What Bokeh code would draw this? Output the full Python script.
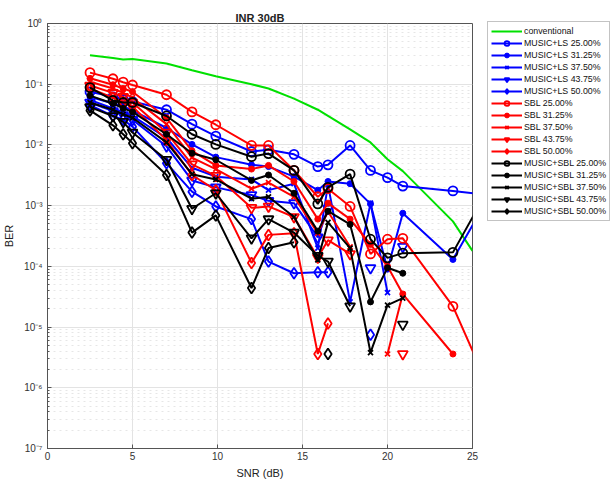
import numpy as np
from bokeh.plotting import figure
from bokeh.models import (Legend, LegendItem, CustomJSTickFormatter, FixedTicker,
                          SingleIntervalTicker)
from bokeh.embed import file_html
from bokeh.resources import INLINE

# SNR grid (dB) shared by the detector curves; last point lies past the axis end
snr = [2.5, 3.85, 4.45, 5.0, 7.0, 8.5, 9.9, 12.0, 13.0, 14.5, 15.9, 16.5,
       17.8, 19.0, 20.0, 20.9, 23.85, 27.0]
snr_conv = [2.5, 3.85, 4.45, 5.0, 7.0, 8.5, 9.9, 12.0, 13.0, 14.5, 15.9, 16.5,
            17.8, 19.0, 20.0, 20.9, 23.85, 25.0]

ber_conventional = [0.30, 0.27, 0.255, 0.26, 0.22, 0.17, 0.135, 0.10, 0.085, 0.058,
                    0.038, 0.030, 0.018, 0.011, 0.0058, 0.0037, 5.5e-4, 1.8e-4]

N = None
# MUSIC+LS
ls_25 = [0.075, 0.062, 0.056, 0.052, 0.038, 0.022, 0.014, 0.0078, 0.0083, 0.0070,
         0.0044, 0.0047, 0.0098, 0.0038, 0.0029, 0.0021, 0.00175, 0.00137]
ls_3125 = [0.062, 0.048, 0.043, 0.037, 0.019, 0.0102, 0.0063, 0.0047, 0.0044, 0.0030,
           0.0018, 0.0025, 0.0023, 0.00107, 9e-5, 7.5e-4, 1.3e-4, 4.5e-3]
ls_375 = [0.055, 0.040, 0.035, 0.030, 0.013, 0.0042, 0.0030, 0.0027, 0.0018, 0.0023,
          2.0e-4, 0.0022, 2.6e-5, 0.0011, 3.7e-5, N, N, N]
ls_4375 = [0.050, 0.036, 0.031, 0.026, 0.0095, 0.0026, 0.0020, 0.0015, 0.0012, 0.0011,
           3.0e-4, 9.0e-4, N, 9.4e-5, N, 2.1e-4, N, N]
ls_50 = [0.045, 0.030, 0.026, 0.020, 0.0050, 0.0017, 9.7e-4, 6.0e-4, 1.2e-4, 7.7e-5,
         8.0e-5, 8.0e-5, N, 7.5e-6, N, N, N, N]
# SBL
sbl_25 = [0.155, 0.123, 0.108, 0.097, 0.067, 0.035, 0.0215, 0.0098, 0.0098, 0.0038,
          0.0014, 0.0019, 9.7e-4, 1.6e-4, 2.8e-4, 2.9e-4, 2.2e-5, 2.2e-7]
sbl_3125 = [0.125, 0.098, 0.085, 0.075, 0.028, 0.0080, 0.0046, 0.0040, 0.0046, 0.0025,
            6.0e-4, 0.0011, 6.0e-4, 2.3e-4, 1.0e-4, 3.5e-5, 3.6e-6, N]
sbl_375 = [0.11, 0.085, 0.072, 0.060, 0.022, 0.0062, 0.0040, 0.0019, 0.0024, 0.0014,
           3.5e-4, 8.0e-4, 2.1e-4, N, 3.6e-6, 3.5e-5, N, N]
sbl_4375 = [0.095, 0.072, 0.062, 0.050, 0.016, 0.0048, 0.0031, 9.2e-4, 9.7e-4, 6.5e-4,
            1.4e-4, 2.7e-4, 1.6e-4, N, N, 3.6e-6, N, N]
sbl_50 = [0.085, 0.060, 0.050, 0.043, 0.012, 0.0032, 0.0018, 1.14e-4, 3.3e-4, 3.5e-4,
          3.6e-6, 1.15e-5, N, N, N, N, N, N]
# MUSIC+SBL
msbl_25 = [0.088, 0.054, 0.050, 0.050, 0.030, 0.015, 0.0102, 0.0064, 0.0072, 0.0038,
           0.00107, 0.0020, 0.0033, 2.8e-4, 1.38e-4, 1.65e-4, 1.7e-4, 6.4e-3]
msbl_3125 = [0.065, 0.048, 0.040, 0.035, 0.015, 0.0073, 0.0057, 0.0026, 0.0032, 0.0016,
             3.8e-4, 8.1e-4, 4.9e-4, 2.6e-5, 9.5e-5, 7.7e-5, N, N]
msbl_375 = [0.050, 0.038, 0.032, 0.028, 0.011, 0.0033, 0.0027, 0.0013, 0.0014, 6.5e-4,
            1.28e-4, 5.3e-4, 2.0e-4, 3.8e-6, 2.3e-5, 3.0e-5, N, N]
msbl_4375 = [0.042, 0.030, 0.024, 0.016, 0.0057, 8.9e-4, 0.0016, 2.9e-4, 6.0e-4, 3.6e-4,
             1.5e-4, 1.2e-4, 2.2e-5, N, N, 1.1e-5, N, N]
msbl_50 = [0.037, 0.021, 0.015, 0.0107, 0.0032, 3.6e-4, 6.9e-4, 4.4e-5, 2.0e-4, 2.5e-4,
           N, 3.6e-6, N, N, N, N, N, N]

FONT = "Liberation Sans"
FRAME_W, FRAME_H = 425, 425

p = figure(frame_width=FRAME_W, frame_height=FRAME_H, x_range=(0, 25), y_range=(1e-7, 1),
           y_axis_type="log", output_backend="svg", toolbar_location=None,
           min_border_left=47, min_border_top=23, min_border_bottom=34,
           min_border_right=141,
           background_fill_color="white", border_fill_color="white")

p.title.text = "INR 30dB"
p.title.align = "center"
p.title.text_font = FONT
p.title.text_font_size = "11px"
p.title.text_font_style = "bold"
p.title.text_color = "#222222"
p.title.standoff = 0

p.outline_line_color = "#555555"
p.outline_line_width = 1

for ax in (p.xaxis[0], p.yaxis[0]):
    ax.axis_line_color = "#555555"
    ax.major_tick_line_color = "#555555"
    ax.minor_tick_line_color = "#555555"
    ax.major_tick_in = 4
    ax.major_tick_out = 0
    ax.minor_tick_in = 2
    ax.minor_tick_out = 0
    ax.major_label_text_font = FONT
    ax.major_label_text_font_size = "10px"
    ax.major_label_text_color = "#333333"
    ax.axis_label_text_font = FONT
    ax.axis_label_text_font_size = "11px"
    ax.axis_label_text_font_style = "normal"
    ax.axis_label_text_color = "#222222"

p.xaxis.axis_label = "SNR (dB)"
p.yaxis.axis_label = "BER"
p.xaxis.ticker = SingleIntervalTicker(interval=5, num_minor_ticks=0)
p.xaxis.minor_tick_line_color = None
p.xaxis.major_label_standoff = 3
p.xaxis.axis_label_standoff = 4
p.yaxis.major_label_standoff = 5
p.yaxis.axis_label_standoff = 6

decades = list(range(-7, 1))
minor = [m * 10.0 ** d for d in decades[:-1] for m in range(2, 10)]
p.yaxis.ticker = FixedTicker(ticks=[10.0 ** d for d in decades], minor_ticks=minor)
p.yaxis.formatter = CustomJSTickFormatter(code="""
const sup = {'0':'\u2070','1':'\u00b9','2':'\u00b2','3':'\u00b3','4':'\u2074',
             '5':'\u2075','6':'\u2076','7':'\u2077','8':'\u2078','9':'\u2079','-':'\u207b'};
const e = Math.round(Math.log10(tick));
return '10' + String(e).split('').map(c => sup[c]).join('');
""")

p.xgrid.grid_line_color = "#e3e3e3"
p.ygrid.grid_line_color = "#e3e3e3"
p.ygrid.minor_grid_line_color = "#e6e6e6"
p.ygrid.minor_grid_line_dash = "dotted"
p.ygrid.ticker = p.yaxis[0].ticker
p.xgrid.ticker = p.xaxis[0].ticker


def arr(v):
    return np.array([np.nan if x is None else x for x in v], dtype=float)


items = []
r = p.line(snr_conv, ber_conventional, line_color="#00e000", line_width=2)
items.append(LegendItem(label="conventional", renderers=[r]))

series = [
    ("MUSIC+LS 25.00%", ls_25, "blue", "circle"),
    ("MUSIC+LS 31.25%", ls_3125, "blue", "dot"),
    ("MUSIC+LS 37.50%", ls_375, "blue", "x"),
    ("MUSIC+LS 43.75%", ls_4375, "blue", "inverted_triangle"),
    ("MUSIC+LS 50.00%", ls_50, "blue", "diamond"),
    ("SBL 25.00%", sbl_25, "red", "circle"),
    ("SBL 31.25%", sbl_3125, "red", "dot"),
    ("SBL 37.50%", sbl_375, "red", "x"),
    ("SBL 43.75%", sbl_4375, "red", "inverted_triangle"),
    ("SBL 50.00%", sbl_50, "red", "diamond"),
    ("MUSIC+SBL 25.00%", msbl_25, "black", "circle"),
    ("MUSIC+SBL 31.25%", msbl_3125, "black", "dot"),
    ("MUSIC+SBL 37.50%", msbl_375, "black", "x"),
    ("MUSIC+SBL 43.75%", msbl_4375, "black", "inverted_triangle"),
    ("MUSIC+SBL 50.00%", msbl_50, "black", "diamond"),
]

for label, vals, color, mk in series:
    y = arr(vals)
    ln = p.line(snr, y, line_color=color, line_width=2)
    if mk == "dot":
        sc = p.scatter(snr, y, marker="circle", size=6, line_color=color,
                       fill_color=color, line_width=1)
    elif mk == "circle":
        sc = p.scatter(snr, y, marker="circle", size=9, line_color=color,
                       fill_color=None, line_width=1.8)
    elif mk == "x":
        sc = p.scatter(snr, y, marker="x", size=7, line_color=color, line_width=1.8)
    elif mk == "inverted_triangle":
        sc = p.scatter(snr, y, marker="inverted_triangle", size=10, line_color=color,
                       fill_color=None, line_width=1.8)
    else:
        sc = p.scatter(snr, y, marker="diamond", size=11, line_color=color,
                       fill_color=None, line_width=1.8)
    items.append(LegendItem(label=label, renderers=[ln, sc]))

# legend box in the right-hand panel, its top level with the frame top
ROW_H, PAD, N_ITEMS = 12, 3, 16
legend_h = 2 * PAD + N_ITEMS * ROW_H
legend = Legend(items=items, location=(15, FRAME_H - legend_h), margin=0, padding=PAD,
                spacing=0, glyph_width=31, glyph_height=ROW_H, label_height=ROW_H,
                label_standoff=2, label_text_font=FONT, label_text_font_size="8.8px",
                label_text_color="#111111", border_line_color="#888888",
                background_fill_color="white")
p.add_layout(legend, "right")

open("out.html", "w").write(file_html(p, INLINE))
